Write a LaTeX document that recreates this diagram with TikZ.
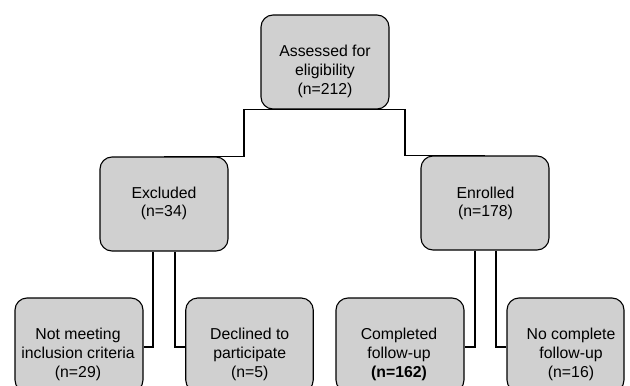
\documentclass[tikz,border=0pt]{standalone}
\usepackage{fontspec}
\setmainfont{Liberation Sans}
\definecolor{boxgray}{RGB}{208,208,208}
\begin{document}
\begin{tikzpicture}[x=1pt,y=-1pt,
  box/.style={draw=black, line width=1.1pt, fill=boxgray, rounded corners=12pt, inner sep=0pt, minimum height=94pt},
  txt/.style={align=center, inner sep=0pt, font=\fontsize{15.8}{18.6}\selectfont},
  conn/.style={draw=black, line width=1.1pt}]
\useasboundingbox (0,0) rectangle (630,386);
\clip (0,0) rectangle (630,386);
% boxes
\node[box, minimum width=128pt] (top) at (325,62) {};
\node[box, minimum width=128pt] (exc) at (164,204) {};
\node[box, minimum width=128pt] (enr) at (485,203) {};
\node[box, minimum width=128pt] (nm) at (79,345) {};
\node[box, minimum width=127.5pt] (dec) at (249.5,345) {};
\node[box, minimum width=128pt] (comp) at (400,345) {};
\node[box, minimum width=117pt] (nocomp) at (565.5,345) {};
% texts
\node[txt] (ttop) at (325,71.5) {Assessed for\\eligibility\\(n=212)};
\node[txt] (texc) at (164,203.5) {Excluded\\(n=34)};
\node[txt] (tenr) at (485.5,203.5) {Enrolled\\(n=178)};
\node[txt] (tnm) at (78,354.5) {Not meeting\\inclusion criteria\\(n=29)};
\node[txt] (tdec) at (249.7,354.5) {Declined to\\participate\\(n=5)};
\node[txt] (tcomp) at (399,354.5) {Completed\\follow-up\\\textbf{(n=162)}};
\node[txt] (tnocomp) at (571,354.5) {No complete\\follow-up\\(n=16)};
% connectors
\draw[conn] (exc.north) -| ([xshift=-81pt]top.south) -- ([xshift=80pt]top.south) |- (enr.north);
\draw[conn] ([xshift=-11pt]exc.south) |- (nm.east |- 0,347);
\draw[conn] ([xshift=11pt]exc.south) |- (dec.west |- 0,347);
\draw[conn] ([xshift=-10pt]enr.south) |- (comp.east |- 0,347);
\draw[conn] ([xshift=11pt]enr.south) |- (nocomp.west |- 0,347);
\end{tikzpicture}
\end{document}
